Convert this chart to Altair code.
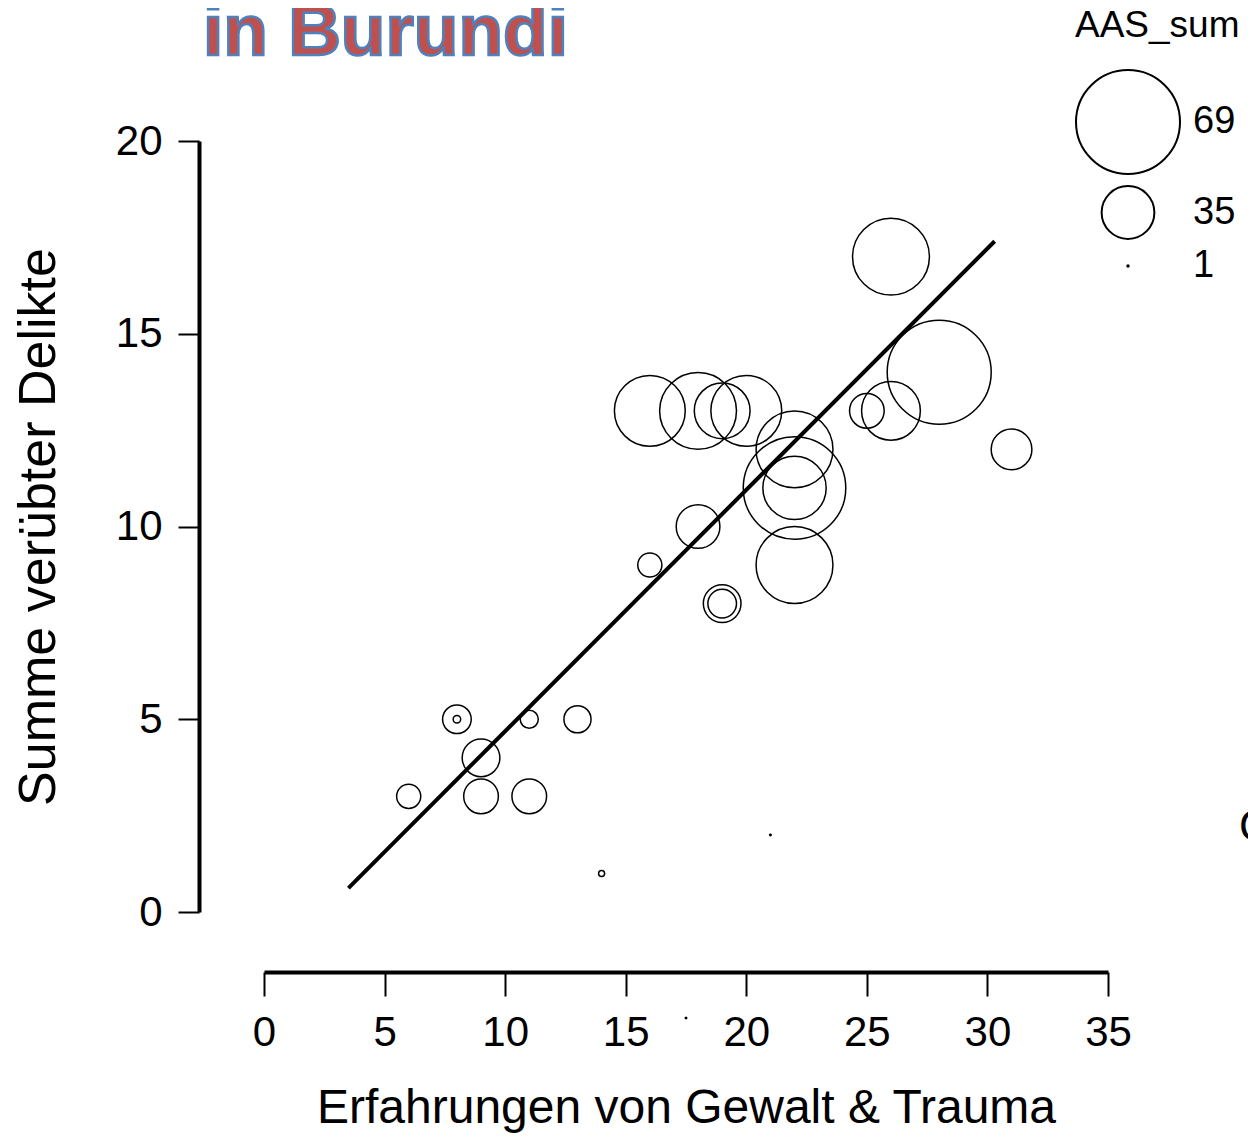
import altair as alt
import pandas as pd

# ---- data ----
trauma = [6, 8, 8, 9, 9, 11, 11, 13, 14, 16, 18, 19, 19, 16, 18, 19, 20, 22, 22, 22, 22, 25, 26, 26, 28, 31, 21, 17.5]
delikte = [3, 5, 5, 4, 3, 5, 3, 5, 1, 9, 10, 8, 8, 13, 13, 13, 13, 12, 11, 11, 9, 13, 13, 17, 14, 12, 2, -2.75]
aas_sum = [16, 19, 5, 25, 23, 12, 23, 18, 4, 16, 29, 25, 19, 47, 51, 37, 47, 51, 68, 42, 51, 23, 39, 51, 69, 27, 1, 1]

fit_x = [3.5, 30.3]
fit_y = [0.62, 17.4]

legend_values = [69, 35, 1]
x_ticks = [0, 5, 10, 15, 20, 25, 30, 35]
y_ticks = [0, 5, 10, 15, 20]

title_text = ["in Burundi"]
side_text = ["C"]

FONT = "Liberation Sans"

pts = pd.DataFrame({"Trauma": trauma, "Delikte": delikte, "AAS_sum": aas_sum})
fit = pd.DataFrame({"Trauma": fit_x, "Delikte": fit_y})

xscale = alt.Scale(domain=[0, 35], nice=False, zero=False)
yscale = alt.Scale(domain=[0, 20], nice=False, zero=False)

xaxis = alt.Axis(
    title="Erfahrungen von Gewalt & Trauma", values=x_ticks, offset=60,
    domainWidth=4, domainColor="black", tickSize=24, tickWidth=2, tickColor="black",
    labelFontSize=42, labelPadding=16, labelColor="black", labelFont=FONT,
    titleFontSize=48, titleFontWeight="normal", titleColor="black", titleFont=FONT,
    titlePadding=31, grid=False, labelFlush=False,
)
yaxis = alt.Axis(
    title="Summe verübter Delikte", values=y_ticks, offset=65,
    domainWidth=4, domainColor="black", tickSize=21, tickWidth=2, tickColor="black",
    labelFontSize=42, labelPadding=16, labelColor="black", labelFont=FONT,
    titleFontSize=52, titleFontWeight="normal", titleColor="black", titleFont=FONT,
    titlePadding=50, grid=False, labelFlush=False,
)

points = alt.Chart(pts).mark_point(
    shape="circle", filled=False, color="black", strokeWidth=1.5, opacity=1, clip=False
).encode(
    x=alt.X("Trauma:Q", scale=xscale, axis=xaxis),
    y=alt.Y("Delikte:Q", scale=yscale, axis=yaxis),
    size=alt.Size(
        "AAS_sum:Q",
        scale=alt.Scale(type="pow", exponent=2, domain=[0, 69], range=[0, 10816]),
        legend=alt.Legend(
            title="AAS_sum", values=legend_values, orient="none",
            legendX=811, legendY=-133, padding=0,
            titleFontSize=37, titleFontWeight="normal", titleFont=FONT, titleColor="black",
            titlePadding=24,
            labelFontSize=38, labelFont=FONT, labelColor="black", labelOffset=12,
            symbolStrokeColor="black", symbolStrokeWidth=2, symbolFillColor="transparent",
            symbolType="circle", rowPadding=4, symbolOpacity=1,
        ),
    ),
)

line = alt.Chart(fit).mark_line(color="black", strokeWidth=4, clip=False).encode(
    x=alt.X("Trauma:Q", scale=xscale),
    y=alt.Y("Delikte:Q", scale=yscale),
)

title = alt.Chart(pd.DataFrame({"t": title_text})).mark_text(
    font=FONT, fontSize=73, fontWeight="bold", fill="#C0504D", stroke="#4F81BD",
    strokeWidth=2.5, align="left", baseline="alphabetic",
).encode(text="t:N", x=alt.value(-61), y=alt.value(-86))

side = alt.Chart(pd.DataFrame({"t": side_text})).mark_text(
    font=FONT, fontSize=44, color="black", align="left", baseline="middle",
).encode(text="t:N", x=alt.value(975), y=alt.value(687))

chart = alt.layer(line, points, title, side).properties(
    width=844, height=771,
    autosize=alt.AutoSizeParams(type="none"),
    padding={"left": 256, "top": 133, "right": 140, "bottom": 221},
).configure(font=FONT).configure_view(strokeWidth=0, stroke=None)

chart.save("out.html", embed_options={"renderer": "svg", "actions": False})
